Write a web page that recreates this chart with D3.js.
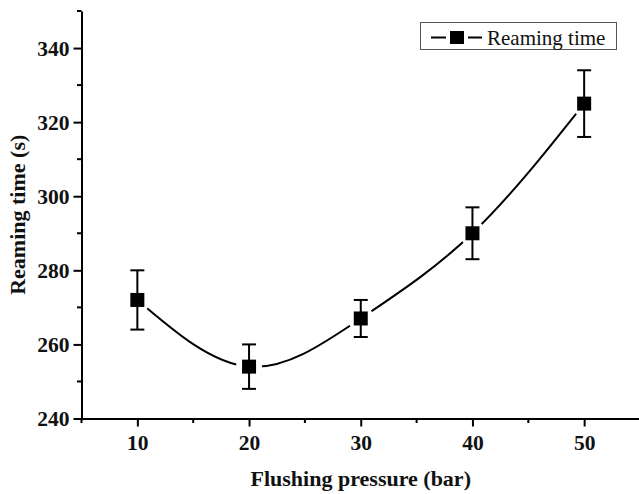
<!DOCTYPE html>
<html>
<head>
<meta charset="utf-8">
<script src="https://cdn.jsdelivr.net/npm/d3@7"></script>
<style>
  html, body { margin: 0; padding: 0; background: #fff; }
  svg { display: block; }
  text { font-family: "Liberation Serif", "Times New Roman", serif; }
</style>
</head>
<body>
<svg id="chart" width="639" height="494"></svg>
<script>
// ---- data ----
const pressure = [10, 20, 30, 40, 50];
const reamingTime = [272, 254, 267, 290, 325];
const errLow = [264, 248, 262, 283, 316];
const errHigh = [280, 260, 272, 297, 334];
const xTicks = [10, 20, 30, 40, 50];
const yTicks = [240, 260, 280, 300, 320, 340];
const seriesName = "Reaming time";
const xTitle = "Flushing pressure (bar)";
const yTitle = "Reaming time (s)";

(function () {
const svg = d3.select("#chart");
const W = 639, H = 494;
const pLeft = 81.5, pRight = 640, pTop = 11, pBottom = 418.5;

const x = d3.scaleLinear().domain([5, 55]).range([pLeft, pRight]);
const y = d3.scaleLinear().domain([240, 350]).range([pBottom, pTop]);

const data = pressure.map((p, i) => ({ x: p, y: reamingTime[i], lo: errLow[i], hi: errHigh[i] }));

// ---- axes ----
const xMinor = d3.range(5, 56, 10);
const yMinor = d3.range(250, 351, 20);

const axG = svg.append("g").attr("stroke", "#000").attr("stroke-width", 2);
axG.selectAll(".xm").data(xMinor).join("line")
  .attr("x1", d => x(d)).attr("x2", d => x(d))
  .attr("y1", pBottom).attr("y2", pBottom + 4.5);
axG.selectAll(".ym").data(yMinor).join("line")
  .attr("y1", d => y(d)).attr("y2", d => y(d))
  .attr("x1", pLeft).attr("x2", pLeft - 4.5);

const xAxis = d3.axisBottom(x).tickValues(xTicks).tickSize(8).tickPadding(10).tickSizeOuter(0);
const yAxis = d3.axisLeft(y).tickValues(yTicks).tickSize(8).tickPadding(4).tickSizeOuter(0);

const gx = svg.append("g").attr("transform", `translate(0,${pBottom})`).call(xAxis);
const gy = svg.append("g").attr("transform", `translate(${pLeft},0)`).call(yAxis);
[gx, gy].forEach(g => {
  g.select(".domain").attr("stroke", "#000").attr("stroke-width", 2);
  g.selectAll(".tick line").attr("stroke", "#000").attr("stroke-width", 2);
  g.selectAll(".tick text")
    .attr("fill", "#111")
    .style("font-family", '"Liberation Serif", "Times New Roman", serif')
    .style("font-weight", "bold")
    .style("font-size", "21.5px");
});
gx.selectAll(".tick text").attr("dy", null).attr("y", 31);
gy.selectAll(".tick text").attr("dy", "0.34em");

// axis titles
svg.append("text")
  .attr("x", (pLeft + pRight) / 2).attr("y", 486)
  .attr("text-anchor", "middle")
  .style("font-weight", "bold").style("font-size", "22px").attr("fill", "#111")
  .text(xTitle);
svg.append("text")
  .attr("transform", `translate(25,${(pTop + pBottom) / 2}) rotate(-90)`)
  .attr("text-anchor", "middle")
  .style("font-weight", "bold").style("font-size", "22px").attr("fill", "#111")
  .text(yTitle);

// ---- curve with gaps around markers ----
const mask = svg.append("defs").append("mask").attr("id", "gapmask")
  .attr("maskUnits", "userSpaceOnUse").attr("x", 0).attr("y", 0).attr("width", W).attr("height", H);
mask.append("rect").attr("x", 0).attr("y", 0).attr("width", W).attr("height", H).attr("fill", "#fff");
mask.selectAll("circle").data(data).join("circle")
  .attr("cx", d => x(d.x)).attr("cy", d => y(d.y)).attr("r", 13).attr("fill", "#000");

const line = d3.line().x(d => x(d.x)).y(d => y(d.y)).curve(d3.curveNatural);
svg.append("path").datum(data)
  .attr("d", line)
  .attr("fill", "none").attr("stroke", "#000").attr("stroke-width", 2)
  .attr("mask", "url(#gapmask)");

// ---- error bars ----
const eb = svg.append("g").attr("stroke", "#000").attr("stroke-width", 2);
eb.selectAll(".v").data(data).join("line")
  .attr("x1", d => x(d.x)).attr("x2", d => x(d.x))
  .attr("y1", d => y(d.lo)).attr("y2", d => y(d.hi));
eb.selectAll(".ct").data(data).join("line")
  .attr("x1", d => x(d.x) - 7).attr("x2", d => x(d.x) + 7)
  .attr("y1", d => y(d.hi)).attr("y2", d => y(d.hi));
eb.selectAll(".cb").data(data).join("line")
  .attr("x1", d => x(d.x) - 7).attr("x2", d => x(d.x) + 7)
  .attr("y1", d => y(d.lo)).attr("y2", d => y(d.lo));

// ---- markers ----
const ms = 14;
svg.append("g").selectAll("rect").data(data).join("rect")
  .attr("x", d => x(d.x) - ms / 2).attr("y", d => y(d.y) - ms / 2)
  .attr("width", ms).attr("height", ms).attr("fill", "#000");

// ---- legend ----
const lg = svg.append("g");
lg.append("rect").attr("x", 420.5).attr("y", 22.5).attr("width", 196).attr("height", 27)
  .attr("fill", "#fff").attr("stroke", "#555").attr("stroke-width", 1);
lg.append("line").attr("x1", 431).attr("x2", 446).attr("y1", 37.5).attr("y2", 37.5)
  .attr("stroke", "#000").attr("stroke-width", 2);
lg.append("line").attr("x1", 468).attr("x2", 482).attr("y1", 37.5).attr("y2", 37.5)
  .attr("stroke", "#000").attr("stroke-width", 2);
lg.append("rect").attr("x", 450).attr("y", 31).attr("width", 14).attr("height", 13).attr("fill", "#000");
lg.append("text").attr("x", 487).attr("y", 44.5)
  .style("font-size", "21px").attr("fill", "#111")
  .text(seriesName);
})();
</script>
</body>
</html>
